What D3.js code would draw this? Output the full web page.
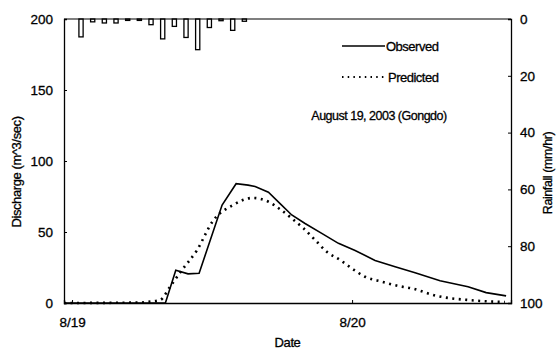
<!DOCTYPE html>
<html>
<head>
<meta charset="utf-8">
<script src="https://cdn.jsdelivr.net/npm/d3@7"></script>
<style>
	body { margin: 0; background: #fff; }
	text { font-family: "Liberation Sans", Arial, sans-serif; fill: #000; stroke: #000; stroke-width: 0.3px; }
	.axis path, .axis line { stroke: #000; }
</style>
</head>
<body>
<div id="chart-area"></div>
<script>

// hours measured from 8/19 00:00
let obsHours = [-0.69, 8.0, 8.89, 9.94, 10.89, 12.86, 14.06, 15.09, 15.69, 16.83, 17.83, 18.83, 19.97, 21.4, 22.83, 24.26, 25.97, 27.69, 29.4, 31.54, 33.94, 35.49, 37.2];
let obsValues = [0, 0, 23, 20.5, 21, 69, 84, 83, 82, 78, 70, 62, 56, 49, 42, 37, 30, 25.6, 21.3, 15.7, 11.5, 7.3, 5];

let predHours = [-0.69, 5.8, 6.7, 7.54, 8.4, 9.4, 10.69, 12.09, 13.8, 15.5, 16.83, 17.83, 18.83, 19.83, 20.83, 21.83, 22.97, 23.97, 25.11, 26.55, 27.97, 29.1, 31.26, 34.1, 37.1];
let predValues = [0, 0.3, 1, 2, 11.5, 23, 37, 58, 69, 74, 71.3, 66, 59.6, 52.6, 44.4, 36.1, 30.3, 24.4, 18.5, 15, 12, 10.3, 5, 2, 0.7];

// hourly rainfall (mm/hr)
let rainHours = [1, 2, 3, 4, 5, 6, 7, 8, 9, 10, 11, 12, 13, 14, 15];
let rainValues = [6.3, 1.0, 1.4, 1.4, 0.5, 0.5, 2.0, 7.0, 2.6, 6.5, 10.8, 3.0, 0.6, 4.0, 0.8];

let dateTicks = [0, 24];
let dateLabels = ["8/19", "8/20"];
let dischargeTicks = [0, 50, 100, 150, 200];
let rainTicks = [0, 20, 40, 60, 80, 100];

let margin = {top: 19, right: 46, bottom: 46, left: 64};
let width = 557 - margin.left - margin.right;
let height = 349 - margin.top - margin.bottom;

let svg = d3.select("#chart-area").append("svg")
		.attr("width", 557)
		.attr("height", 349)
	.append("g")
		.attr("transform", "translate(" + margin.left + "," + margin.top + ")");

let xscale = d3.scaleLinear().domain([-0.69, 37.62]).range([0, width]);
let yscale = d3.scaleLinear().domain([0, 200]).range([height, 0]);
let rscale = d3.scaleLinear().domain([0, 100]).range([0, height]);

// rainfall bars hang from the top
svg.selectAll(".rain")
	.data(rainHours)
	.enter()
	.append("rect")
	.attr("class", "rain")
	.attr("x", (d) => xscale(d) - 4.8)
	.attr("y", 0)
	.attr("width", 4.2)
	.attr("height", (d, i) => rscale(rainValues[i]))
	.attr("fill", "#fff")
	.attr("stroke", "#000")
	.attr("stroke-width", 1.3);

// Axes
let yAxis = d3.axisLeft(yscale).tickValues(dischargeTicks).tickSize(-3).tickPadding(11);
let rAxis = d3.axisRight(rscale).tickValues(rainTicks).tickSize(-3).tickPadding(9);
let xAxis = d3.axisBottom(xscale).tickValues(dateTicks).tickSize(-3).tickPadding(14)
	.tickFormat((d, i) => dateLabels[i]);

svg.append("g").attr("class", "axis y-axis").call(yAxis);
svg.append("g").attr("class", "axis r-axis").attr("transform", "translate(" + width + ",0)").call(rAxis);
svg.append("g").attr("class", "axis x-axis").attr("transform", "translate(0," + height + ")").call(xAxis);
svg.selectAll(".axis text").style("font-size", "13.5px");
svg.selectAll(".axis .domain").attr("stroke-width", 1.3);

// frame top edge
svg.append("line")
	.attr("x1", 0).attr("x2", width)
	.attr("y1", 0).attr("y2", 0)
	.attr("stroke", "#000")
	.attr("stroke-width", 1.2);

// Lines
let obsLine = d3.line()
	.x((d, i) => xscale(obsHours[i]))
	.y((d) => yscale(d));

let predLine = d3.line()
	.x((d, i) => xscale(predHours[i]))
	.y((d) => yscale(d))
	.curve(d3.curveMonotoneX);

svg.append("path")
	.datum(obsValues)
	.attr("fill", "none")
	.attr("stroke", "#000")
	.attr("stroke-width", 1.6)
	.attr("d", obsLine);

svg.append("path")
	.datum(predValues)
	.attr("fill", "none")
	.attr("stroke", "#000")
	.attr("stroke-width", 2.6)
	.attr("stroke-dasharray", "2,4.5")
	.attr("d", predLine);

// Legend
svg.append("line")
	.attr("x1", 278).attr("x2", 321).attr("y1", 27).attr("y2", 27)
	.attr("stroke", "#000").attr("stroke-width", 1.3);
svg.append("text")
	.attr("x", 322).attr("y", 27).attr("dy", "0.35em")
	.style("font-size", "13px").style("letter-spacing", "-0.5px")
	.text("Observed");

svg.append("line")
	.attr("x1", 278).attr("x2", 320).attr("y1", 58).attr("y2", 58)
	.attr("stroke", "#000").attr("stroke-width", 1.8)
	.attr("stroke-dasharray", "1.5,4.2");
svg.append("text")
	.attr("x", 324).attr("y", 58).attr("dy", "0.35em")
	.style("font-size", "13px").style("letter-spacing", "-0.5px")
	.text("Predicted");

svg.append("text")
	.attr("x", 315).attr("y", 97).attr("dy", "0.35em")
	.style("text-anchor", "middle")
	.style("font-size", "12.5px").style("letter-spacing", "-0.5px")
	.text("August 19, 2003 (Gongdo)");

// Axis titles
svg.append("text")
	.attr("transform", "translate(" + (-48) + "," + 153 + ") rotate(-90)")
	.attr("dy", "0.35em")
	.style("text-anchor", "middle")
	.style("font-size", "13px").style("letter-spacing", "-0.4px")
	.text("Discharge (m^3/sec)");

svg.append("text")
	.attr("transform", "translate(" + (width + 37) + "," + 154 + ") rotate(-90)")
	.attr("dy", "0.35em")
	.style("text-anchor", "middle")
	.style("font-size", "12.5px").style("letter-spacing", "-0.4px")
	.text("Rainfall (mm/hr)");

svg.append("text")
	.attr("x", width / 2).attr("y", height + 39)
	.attr("dy", "0.35em")
	.style("text-anchor", "middle")
	.style("font-size", "13px").style("letter-spacing", "-0.4px")
	.text("Date");

</script>
</body>
</html>
